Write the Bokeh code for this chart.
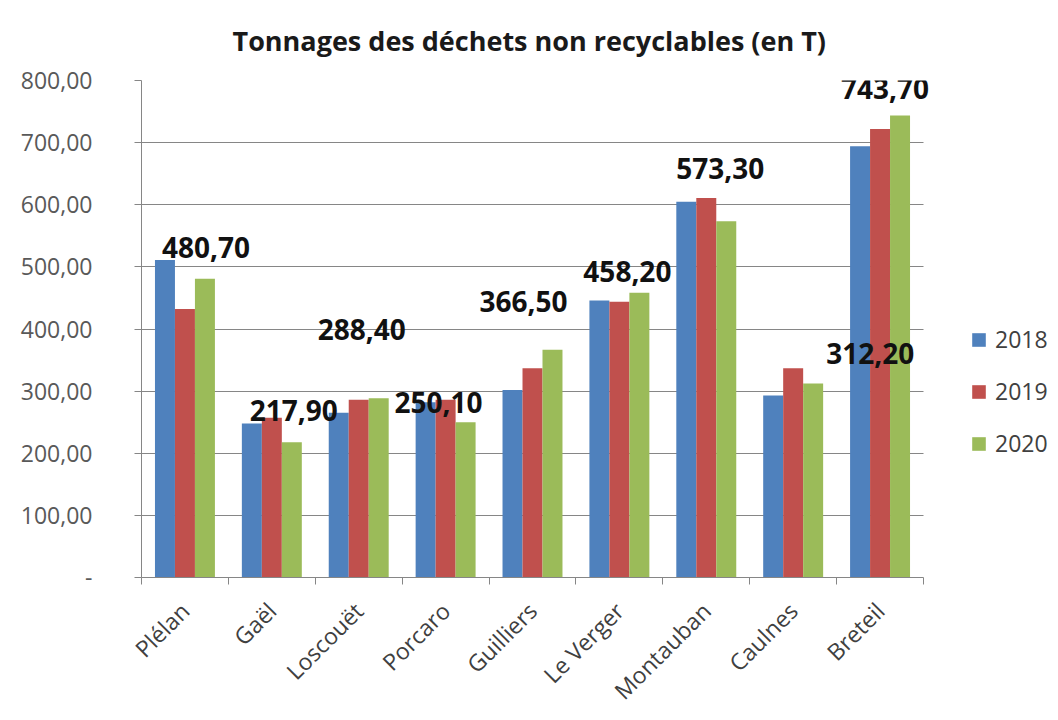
from bokeh.plotting import figure
from bokeh.models import (Range1d, FixedTicker, CustomJSTickFormatter, Legend, LegendItem,
                          ColumnDataSource, Title, BoxAnnotation)
from bokeh.core.properties import value
from bokeh.transform import dodge
from bokeh.embed import file_html
from bokeh.resources import INLINE
import math

# ---- data ----
cities = ["Plélan", "Gaël", "Loscouët", "Porcaro", "Guilliers", "Le Verger", "Montauban", "Caulnes", "Breteil"]
years = ["2018", "2019", "2020"]
t2018 = [511.0, 248.0, 265.0, 282.0, 302.0, 446.0, 605.0, 293.0, 694.0]
t2019 = [432.0, 257.0, 286.0, 286.0, 337.0, 444.0, 611.0, 337.0, 722.0]
t2020 = [480.7, 217.9, 288.4, 250.1, 366.5, 458.2, 573.3, 312.2, 743.7]
label_2020 = ["480,70", "217,90", "288,40", "250,10", "366,50", "458,20", "573,30", "312,20", "743,70"]
y_ticks = [0, 100, 200, 300, 400, 500, 600, 700, 800]

# ---- styles ----
colors = ["#4F81BD", "#C0504D", "#9BBB59"]
bar_w = 0.23
# label offsets (pixels) from the top of the 2020 bar, as dragged in the original
lab_dx = [1, 2, -17, -27, -29, -12, -6, 57, -15]
lab_dy = [-31, -32, -69, -20, -48, -21, -53, -30, -27]
FONT = "Open Sans"

n = len(cities)
centers = [i + 0.5 for i in range(n)]
W, H = 1058, 720
LEFT, TOP, BOTTOM = 141, 80, 136
cat_px = (923 - LEFT) / n          # pixel width of one category
x_end = (W - LEFT) / cat_px        # frame extends under the legend area

p = figure(width=W, height=H, output_backend="svg", toolbar_location=None,
           x_range=Range1d(0, x_end), y_range=Range1d(0, 800),
           min_border_left=LEFT, min_border_right=0, min_border_top=TOP, min_border_bottom=BOTTOM)
p.outline_line_color = None
p.background_fill_color = "white"
p.border_fill_color = "white"

title = Title(text="Tonnages des déchets non recyclables (en T)", align="left", offset=91,
              text_font=FONT, text_font_size="27px", text_font_style="bold",
              text_color="#1a1a1a", standoff=40, vertical_align="top")
p.add_layout(title, "above")

src = ColumnDataSource(dict(c=centers, y18=t2018, y19=t2019, y20=t2020, lab=label_2020,
                            dx=lab_dx, dy=lab_dy))

# y grid
p.xgrid.grid_line_color = None
p.ygrid.ticker = FixedTicker(ticks=y_ticks)
p.ygrid.grid_line_color = "#868686"
p.ygrid.grid_line_width = 1
# blank out the grid beyond the last category (legend zone)
p.add_layout(BoxAnnotation(left=n, fill_color="white", fill_alpha=1.0, line_color=None,
                           level="underlay"))

r18 = p.vbar(x=dodge("c", -bar_w, range=p.x_range), top="y18", width=bar_w, source=src,
             fill_color=colors[0], line_color=None)
r19 = p.vbar(x=dodge("c", 0.0, range=p.x_range), top="y19", width=bar_w, source=src,
             fill_color=colors[1], line_color=None)
r20 = p.vbar(x=dodge("c", bar_w, range=p.x_range), top="y20", width=bar_w, source=src,
             fill_color=colors[2], line_color=None)

p.text(x=dodge("c", bar_w, range=p.x_range), y="y20", text="lab", source=src,
       x_offset="dx", y_offset="dy", text_align="center", text_baseline="middle",
       text_font=value(FONT), text_font_size="28px", text_font_style="bold", text_color="#111111")

# y axis
yax = p.yaxis[0]
yax.ticker = FixedTicker(ticks=y_ticks)
yax.formatter = CustomJSTickFormatter(code="""
    if (tick == 0) { return "-"; }
    return tick.toFixed(2).replace(".", ",");
""")
yax.major_label_text_font = FONT
yax.major_label_text_font_size = "23px"
yax.major_label_text_color = "#595959"
yax.axis_line_color = "#868686"
yax.major_tick_line_color = "#868686"
yax.major_tick_out = 7
yax.major_tick_in = 0
yax.minor_tick_line_color = None
yax.major_label_standoff = 42

# x axis
xax = p.xaxis[0]
xax.bounds = (0, n)
xax.ticker = FixedTicker(ticks=centers, minor_ticks=list(range(n + 1)))
xax.formatter = CustomJSTickFormatter(args=dict(names=cities),
                                      code="return names[Math.floor(tick)];")
xax.major_label_orientation = math.pi / 4
xax.major_label_text_font = FONT
xax.major_label_text_font_size = "23px"
xax.major_label_text_color = "#404040"
xax.axis_line_color = "#868686"
xax.major_tick_line_color = None
xax.minor_tick_line_color = "#868686"
xax.minor_tick_out = 7
xax.minor_tick_in = 0
xax.major_label_standoff = 22

legend = Legend(items=[LegendItem(label=years[0], renderers=[r18]),
                       LegendItem(label=years[1], renderers=[r19]),
                       LegendItem(label=years[2], renderers=[r20])],
                location=(829, 118), orientation="vertical",
                glyph_width=17, glyph_height=17, label_height=22, spacing=20,
                label_standoff=8, padding=0, margin=0,
                border_line_color=None, background_fill_alpha=0,
                label_text_font=FONT, label_text_font_size="23px", label_text_color="#404040")
p.add_layout(legend, "center")

open("out.html", "w").write(file_html(p, INLINE))
